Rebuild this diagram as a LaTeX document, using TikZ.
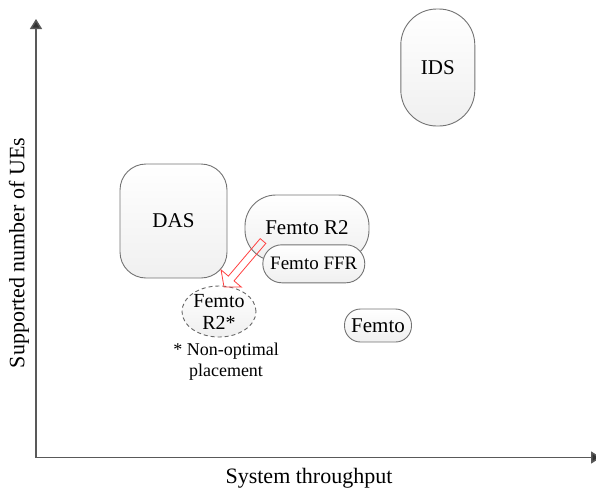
\documentclass[tikz,border=0pt]{standalone}
\usepackage{fontspec}
\setmainfont{Liberation Serif}
\usetikzlibrary{arrows.meta,calc,shapes.geometric}
\begin{document}
\begin{tikzpicture}[x=1pt,y=-1pt,
  techbox/.style={draw=black!55, line width=0.9pt, top color=white, bottom color=black!6,
    rounded corners=#1, inner sep=0pt, font=\fontsize{21}{24}\selectfont},
  techbox/.default=20pt,
  axisline/.style={draw=black!65, line width=1.5pt,
    {Triangle[width=12pt,length=10pt,fill=black!80]}-{Triangle[width=12pt,length=10pt,fill=black!80]}},
  axislabel/.style={font=\fontsize{22}{26}\selectfont},
  movearrow/.style={draw=red!75, line width=0.8pt, line join=miter}
]
\useasboundingbox (0,0) rectangle (596,488);

% axes
\coordinate (ytop) at (36,19);
\coordinate (xend) at (601,457.5);
\draw[axisline] (ytop) |- (xend);
\node[axislabel] (xlab) at (309,478) {System throughput};
\node[axislabel, rotate=90] (ylab) at (19,253) {Supported number of UEs};

% deployment options
\node[techbox=26pt, minimum width=107pt, minimum height=114pt] (das) at (173.5,221) {DAS};
\node[techbox=36pt, minimum width=74pt, minimum height=117pt] (ids) at (437.8,67.5) {IDS};
\node[techbox=31pt, minimum width=124pt, minimum height=66pt] (r2) at (307,228) {Femto R2};
\node[techbox=19pt, minimum width=102pt, minimum height=38pt,
      font=\fontsize{19}{22}\selectfont] (ffr) at (313.8,263.8) {Femto FFR};
\node[techbox=16pt, minimum width=67pt, minimum height=33pt] (femto) at (378,325.5) {Femto};
\node[ellipse, draw=black!60, line width=0.9pt, dash pattern=on 4pt off 3pt,
      top color=white, bottom color=black!6, minimum width=74pt, minimum height=51pt,
      inner sep=0pt, align=center, font=\fontsize{20}{22}\selectfont] (r2bad) at (219,311.5) {Femto\\R2*};
\node[align=center, font=\fontsize{18}{21}\selectfont] (note) at (226,362) {* Non-optimal\\placement};

% hollow block arrow: R2 moved to a non-optimal spot
\coordinate (mvA) at (263,241);
\coordinate (mvB) at (224,287);
\coordinate (mvH) at ($(mvA)!0.815!(mvB)$);
\draw[movearrow]
  ($(mvA)!3.7pt!90:(mvB)$) -- ($(mvH)!3.7pt!90:(mvB)$) -- ($(mvH)!13.3pt!90:(mvB)$)
  -- (mvB) -- ($(mvH)!13.3pt!-90:(mvB)$) -- ($(mvH)!3.7pt!-90:(mvB)$)
  -- ($(mvA)!3.7pt!-90:(mvB)$) -- cycle;
\end{tikzpicture}
\end{document}
